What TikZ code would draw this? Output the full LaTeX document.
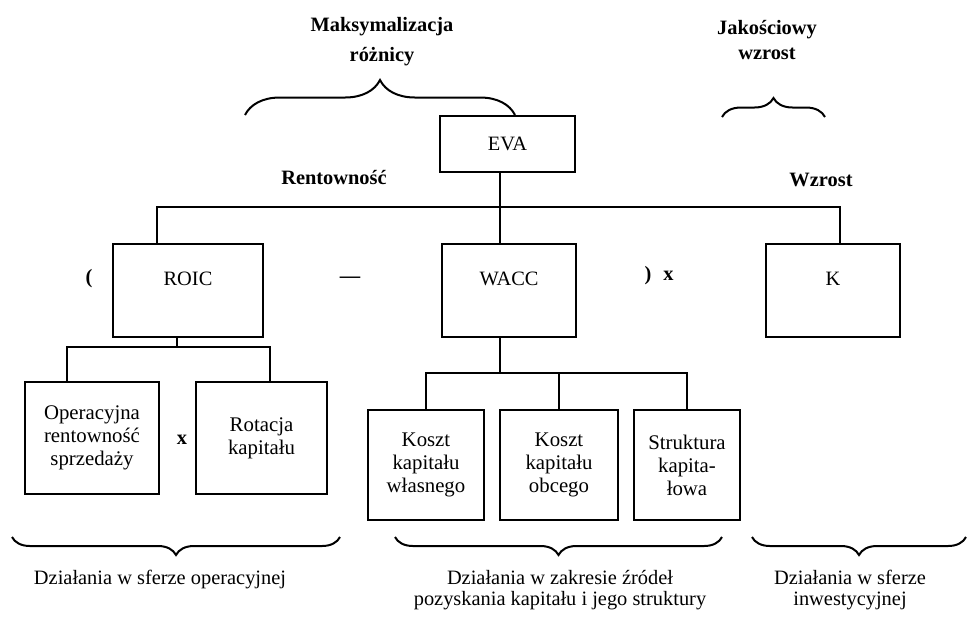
\documentclass[tikz,border=0pt]{standalone}
\usepackage{fontspec}
\setmainfont{Liberation Serif}
\usetikzlibrary{decorations.pathreplacing}
\usetikzlibrary{calc}

\begin{document}
\begin{tikzpicture}[x=0.5pt,y=-0.5pt,line width=1pt,
	font=\fontsize{10.2}{10.5}\selectfont,
	topbox/.style={draw,inner sep=0pt,minimum width=#1,text height=20.8pt,text depth=25.7pt},
	subbox/.style={draw,align=center,inner sep=0pt,minimum width=#1,font=\fontsize{10.4}{11.5}\selectfont},
	bold/.style={font=\fontsize{10.2}{12.5}\selectfont\bfseries},
	brace/.style={decorate,decoration={brace,amplitude=#1}}]
	\useasboundingbox (0,0) rectangle (969,623);
	\node [bold,align=center] (maks) at (382,42) {Maksymalizacja\\[2.5pt]różnicy};
	\node [bold,align=center] (jak) at (767,40.5) {Jakościowy\\wzrost};
	\node [draw,minimum width=67.5pt,minimum height=28pt] (eva) at (507.5,144) {EVA};
	\node [bold] (rent) at (334,178) {Rentowność};
	\node [bold] (wzr) at (821,180) {Wzrost};
	\node [topbox=75pt] (roic) at (188,290.5) {ROIC};
	\node [topbox=67pt] (wacc) at (509,290.5) {WACC};
	\node [topbox=67pt] (k) at (833,290.5) {K};
	\node [bold] (lp) at (89,279) {(};
	\node [bold] (minus) at (350,280) {—};
	\node [bold] (rp) at (659,276) {)\hspace{6pt}x};
	\node [subbox=67pt,minimum height=56pt] (oper) at (92,438) {Operacyjna\\rentowność\\sprzedaży};
	\node [subbox=65.5pt,minimum height=56pt] (rot) at (261.5,438) {Rotacja\\kapitału};
	\node [bold] (times) at (182,440) {x};
	\node [subbox=58pt,minimum height=55pt] (kwl) at (426,465) {Koszt\\kapitału\\własnego};
	\node [subbox=59pt,minimum height=55pt] (kob) at (559,465) {Koszt\\kapitału\\obcego};
	\node [subbox=53pt,minimum height=55pt] (str) at (687,465) {Struktura\\kapita-\\łowa};
	\coordinate (hub) at (500,207);
	\coordinate (rj) at (177,347);
	\coordinate (wj) at (500,373);
	\draw ([xshift=-3.75pt]eva.south) -- ([xshift=-3.75pt]eva.south |- wacc.north);
	\draw ([xshift=-15.5pt]roic.north) |- (hub) -| ([xshift=3.5pt]k.north);
	\draw ([xshift=-5.5pt]roic.south) -- (rj);
	\draw ([xshift=-12.5pt]oper.north) |- (rj) -| ([xshift=4.25pt]rot.north);
	\draw ([xshift=-4.5pt]wacc.south) -- (wj);
	\draw (kwl.north) |- (wj) -| (str.north) (kob.north) -- (kob.north |- wj);
	\draw [brace=17.5pt] (245,115) -- (515,115);
	\draw [brace=9.5pt] (722,117) -- (825,117);
	\draw [brace=9pt] (340,537) -- (12,537);
	\draw [brace=9pt] (722,537) -- (395,537);
	\draw [brace=9pt] (966,537) -- (752,537);
	\node (opdz) at (160,580) {Działania w sferze operacyjnej};
	\node [align=center] (kapdz) at (560,590.5) {Działania w zakresie źródeł\\pozyskania kapitału i jego struktury};
	\node [align=center] (invdz) at (850,590.5) {Działania w sferze\\inwestycyjnej};
\end{tikzpicture}
\end{document}
